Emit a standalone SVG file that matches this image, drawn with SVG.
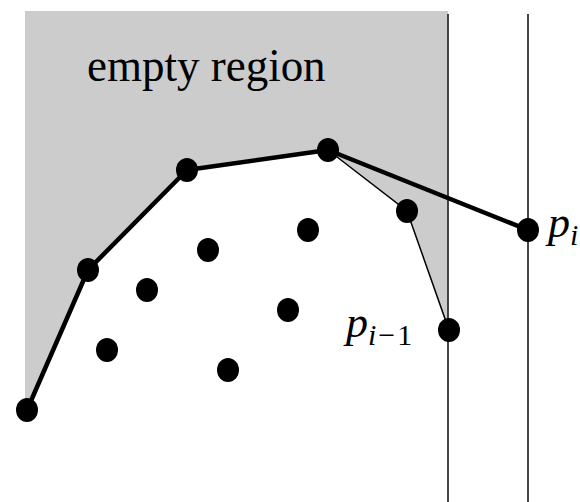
<svg xmlns="http://www.w3.org/2000/svg" width="580" height="502" viewBox="0 0 580 502">
<style>
.pt{fill:#000}
.thick{fill:none;stroke:#000;stroke-width:4.5;stroke-linejoin:round}
.thin{fill:none;stroke:#000;stroke-width:1.5}
.vl{stroke:#333;stroke-width:1.8}
.lbl{font-family:Liberation Serif, DejaVu Serif, serif;fill:#000}
</style>
<rect width="580" height="502" fill="#fff"/>
<g id="empty-region">
<polygon points="25,11 448,11 448,330 407,211 328,150 187,170 88,270 27,410 25,410" fill="#cccccc"/>
<text class="lbl" font-size="45" transform="translate(87,81) scale(1,1.05)">empty region</text>
</g>
<g id="sweep-lines">
<line class="vl" x1="448" y1="14" x2="448" y2="502"/>
<line class="vl" x1="528" y1="14" x2="528" y2="502"/>
</g>
<g id="connectors">
<polyline class="thin" points="328,150 407,211 449,330"/>
<polyline class="thick" points="27,410 88,270 187,170 328,150 528,230"/>
</g>
<g id="points">
<ellipse class="pt" cx="27" cy="410" rx="11" ry="12"/>
<ellipse class="pt" cx="88" cy="270" rx="11" ry="12"/>
<ellipse class="pt" cx="187" cy="170" rx="11" ry="12"/>
<ellipse class="pt" cx="328" cy="150" rx="11" ry="12"/>
<ellipse class="pt" cx="407" cy="211" rx="11" ry="12"/>
<ellipse class="pt" cx="208" cy="250" rx="11" ry="12"/>
<ellipse class="pt" cx="308" cy="230" rx="11" ry="12"/>
<ellipse class="pt" cx="147" cy="290" rx="11" ry="12"/>
<ellipse class="pt" cx="288" cy="310" rx="11" ry="12"/>
<ellipse class="pt" cx="107" cy="350" rx="11" ry="12"/>
<ellipse class="pt" cx="228" cy="370" rx="11" ry="12"/>
</g>
<g id="p_i">
<ellipse class="pt" cx="528" cy="230" rx="11" ry="12"/>
<text class="lbl" font-size="44" font-style="italic" x="548" y="237">p<tspan font-size="30" dy="8">i</tspan></text>
</g>
<g id="p_i-1">
<ellipse class="pt" cx="449" cy="330" rx="11" ry="12"/>
<text class="lbl" font-size="44" font-style="italic" x="346" y="337">p<tspan font-size="30" dy="8">i</tspan><tspan font-size="30" font-style="normal" dx="2">−</tspan><tspan font-size="30" font-style="normal" dx="2">1</tspan></text>
</g>
</svg>
